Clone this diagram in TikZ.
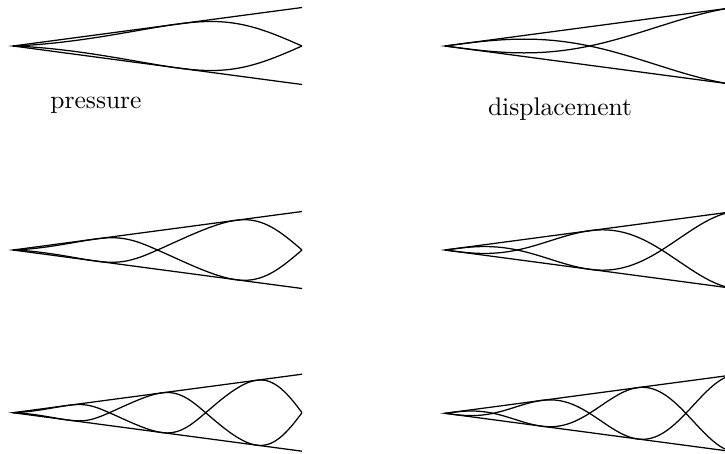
\documentclass[tikz,border=0pt]{standalone}
\begin{document}
\begin{tikzpicture}[x=0.4pt,y=-0.4pt,
  wall/.style={line width=0.5pt},
  wave/.style={line width=0.5pt},
  lbl/.style={anchor=base,inner sep=0pt,font=\fontsize{10.2}{12}\selectfont},
  declare function={
    hrm(\hT,\hA,\hB,\hC,\hD,\hE)=(2*\hT*\hT*\hT-3*\hT*\hT+1)*\hA+(\hT*\hT*\hT-2*\hT*\hT+\hT)*\hE*\hC+(-2*\hT*\hT*\hT+3*\hT*\hT)*\hB+(\hT*\hT*\hT-\hT*\hT)*\hE*\hD;
    psiP(\hQ)=(\hQ<1.8) ? hrm(\hQ/1.8,-1.3,0,0.7222,0.9465,1.8) :
      ((\hQ<3.1416) ? hrm((\hQ-1.8)/1.3416,0,1.5708,0.9465,1.0452,1.3416) :
      ((\hQ<4.85) ? hrm((\hQ-3.1416)/1.7084,1.5708,3.1416,1.0452,1.0078,1.7084) :
      ((\hQ<6.2832) ? hrm((\hQ-4.85)/1.4332,3.1416,4.7124,1.0078,1.0192,1.4332) :
      ((\hQ<7.95) ? hrm((\hQ-6.2832)/1.6668,4.7124,6.2832,1.0192,1.0038,1.6668) :
       hrm((\hQ-7.95)/1.4748,6.2832,7.8540,1.0038,1.0651,1.4748)))));
  }]
\useasboundingbox (0,0) rectangle (725,453);
\clip (0,0) rectangle (725,453);

% pressure panels
\foreach \n/\Y in {1/46,2/250,3/412.7}{
  \pgfmathsetmacro\dom{\n*pi}
  \coordinate (pa\n) at (13,\Y);
  \coordinate (pt\n) at (302,\Y-38.5);
  \coordinate (pb\n) at (302,\Y+38.5);
  \draw[wall] (pt\n) -- (pa\n) -- (pb\n);
  \draw[wave] plot[variable=\q,domain=0:\dom,samples=220]
    ({13+289*\q/\dom},{\Y-38.5*\q/\dom*cos(deg(psiP(\q)))});
  \draw[wave] plot[variable=\q,domain=0:\dom,samples=220]
    ({13+289*\q/\dom},{\Y+38.5*\q/\dom*cos(deg(psiP(\q)))});
}

% displacement panels
\foreach \n/\Y in {1/46,2/250,3/413.3}{
  \pgfmathsetmacro\dom{\n*pi}
  \coordinate (da\n) at (445,\Y);
  \coordinate (dt\n) at (734,\Y-38.5);
  \coordinate (db\n) at (734,\Y+38.5);
  \draw[wall] (dt\n) -- (da\n) -- (db\n);
  \draw[wave] plot[variable=\q,domain=0:\dom,samples=220]
    ({445+289*\q/\dom},{\Y-38.5*\q/\dom*cos(deg(\q))});
  \draw[wave] plot[variable=\q,domain=0:\dom,samples=220]
    ({445+289*\q/\dom},{\Y+38.5*\q/\dom*cos(deg(\q))});
}

\node[lbl] (plabel) at (96,108.3) {pressure};
\node[lbl] (dlabel) at (560,115.3) {displacement};
\end{tikzpicture}
\end{document}
